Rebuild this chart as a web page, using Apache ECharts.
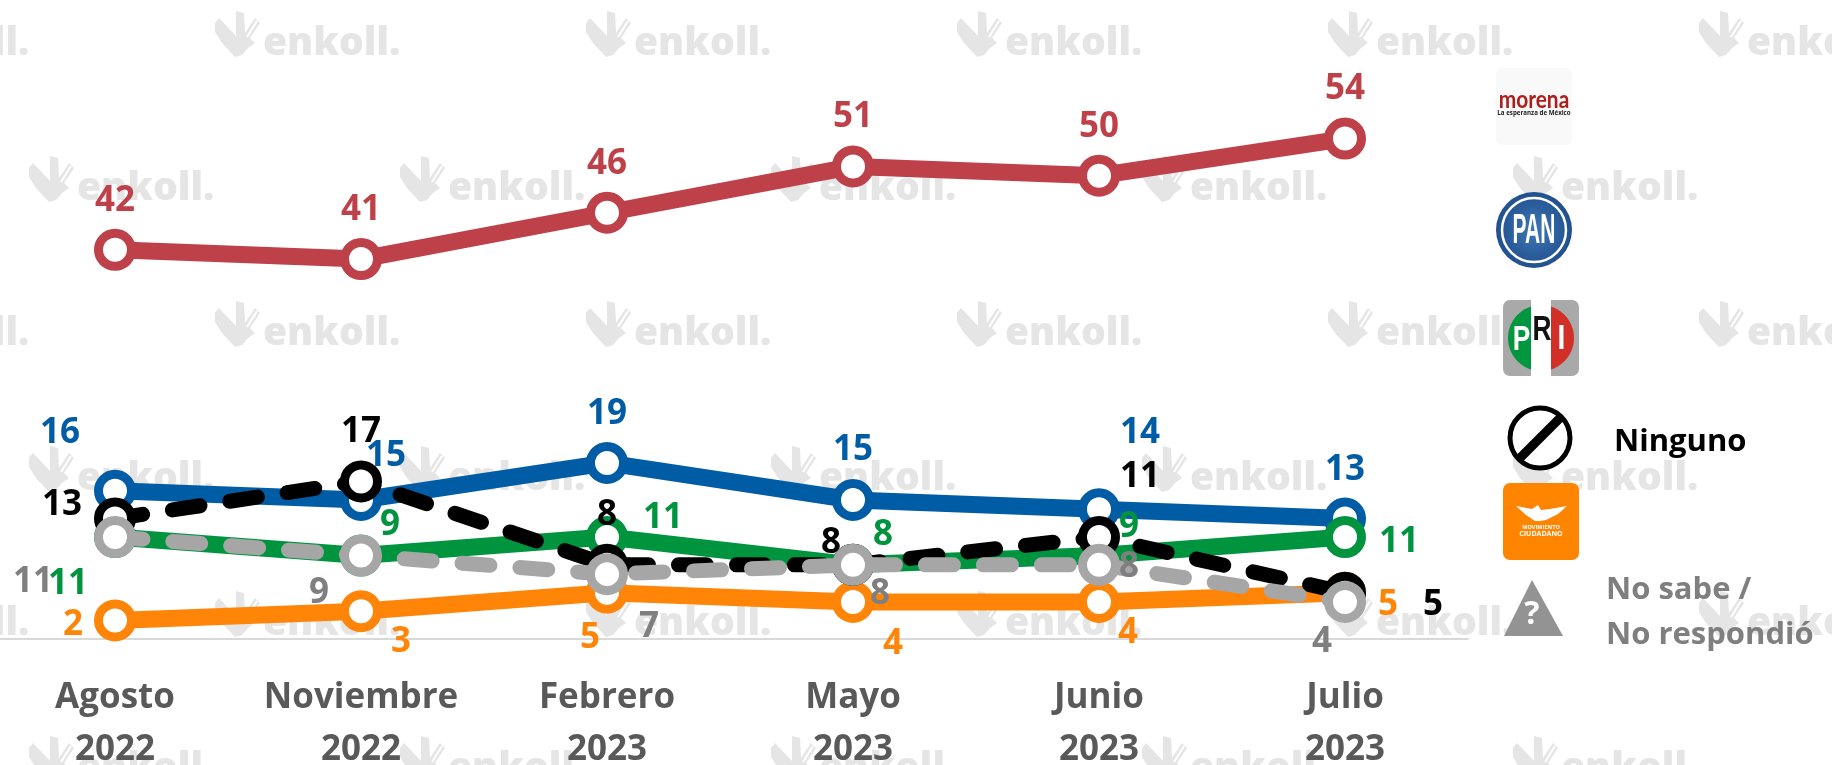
<!DOCTYPE html>
<html>
<head>
<meta charset="utf-8">
<style>html,body{margin:0;padding:0;background:#fff}#c{width:1832px;height:765px}</style>
<script src="https://cdn.jsdelivr.net/npm/echarts@6/dist/echarts.min.js"></script>
</head>
<body>
<div id="c"></div>
<script>
const categories = ['Agosto\n2022','Noviembre\n2022','Febrero\n2023','Mayo\n2023','Junio\n2023','Julio\n2023'];
const morena  = [42,41,46,51,50,54];
const pan     = [16,15,19,15,14,13];
const pri     = [11,9,11,8,9,11];
const mc      = [2,3,5,4,4,5];
const ninguno = [13,17,8,8,11,5];
const noSabe  = [11,9,7,8,8,4];

const offMorena  = [[0,-49],[0,-49],[0,-49],[0,-49],[0,-49],[0,-50]];
const offPan     = [[-55,-58],[25,-44],[0,-49],[0,-50],[41,-76],[0,-49]];
const offPri     = [[-47,47],[29,-31],[56,-19],[30,-30],[30,-29],[54,5]];
const offMc      = [[-42,5],[40,31],[-17,45],[40,42],[29,31],[43,12]];
const offNinguno = [[-53,-14],[0,-49],[0,-50],[-22,-22],[41,-60],[88,12]];
const offNoSabe  = [[-82,45],[-42,37],[42,53],[27,29],[30,2],[-23,40]];

const FONT = '"Open Sans"';
function mk(name, vals, offs, color, labelColor, dashed, width, i) {
  return {
    name, type:'line', z:3+i, data: vals.map((v,k)=>({
      value:v, label:{offset:offs[k]}
    })),
    symbol:'circle', symbolSize:33, showAllSymbol:true, clip:false,
    lineStyle:{color, width, type: dashed?[28,30]:'solid', cap: dashed?'round':'butt', join:'round'},
    itemStyle:{color:'#fff', borderColor:color, borderWidth:9, opacity:1},
    label:{show:true, position:'inside', color:labelColor, fontFamily:FONT, fontWeight:'bold', fontSize:35},
    emphasis:{disabled:true}
  };
}
const series = [
  mk('Morena',morena,offMorena,'#be4049','#be4049',false,17,0),
  mk('PAN',pan,offPan,'#005ca4','#005ca4',false,17,1),
  mk('PRI',pri,offPri,'#00943f','#00943f',false,17,2),
  mk('MC',mc,offMc,'#ff8508','#ff8508',false,17,3),
  mk('Ninguno',ninguno,offNinguno,'#000000','#000000',true,15,4),
  mk('No sabe / No respondió',noSabe,offNoSabe,'#a6a6a6','#7f7f7f',true,15,5)
];

/* watermark */
const g = [];
const wmColor = '#e5e5e5';
const LOGO = [[0,13],[4,8],[21,26],[21,1],[29,3],[30,23],[40,8],[45,13],[35,28],[40,33],[33,38],[27,45],[20,47],[7,33],[0,22]];
function wm(x,y){
  g.push({type:'polygon', z:0, silent:true, shape:{points:LOGO.map(p=>[p[0]+x,p[1]+y])}, style:{fill:wmColor}});
  g.push({type:'line', z:0, silent:true, shape:{x1:x+32,y1:y+27,x2:x+42,y2:y+11}, style:{stroke:'#fff',lineWidth:2}});
  g.push({type:'text', z:0, silent:true, x:x+48, y:y+53, style:{text:'enkoll.', fill:wmColor, font:'800 39px "Open Sans"', verticalAlign:'bottom'}});
}
for (let r=0;r<6;r++){
  const y0 = 10+145*r, start = r%2===0 ? -156 : 29;
  for (let c=0;c<6;c++) wm(start+371*c,y0);
}

/* legend icons */
const Z=60;
function rr(x,y,w,h,rad,fill,z){g.push({type:'rect',z:z||Z,silent:true,shape:{x,y,width:w,height:h,r:rad},style:{fill}});}
function txt(x,y,t,font,fill,align,sx){g.push({type:'text',z:Z+2,silent:true,x,y,scaleX:sx||1,style:{text:t,font,fill,align:align||'center',verticalAlign:'middle'}});}
function lune(cx,cy,r,dx,sign){const p=[];const t=Math.acos(dx/r);for(let i=0;i<=24;i++){const a=-t+2*t*i/24;p.push([cx+sign*r*Math.cos(a),cy+r*Math.sin(a)]);}return p;}

// morena
rr(1496,68,76,77,7,'#f9f9f9');
txt(1534,100,'morena','bold 24px Lato','#ad1d1c','center',.87);
txt(1534,113,'La esperanza de México','bold 6.2px "Open Sans"','#222');
// PAN
g.push({type:'circle',z:Z,silent:true,shape:{cx:1534,cy:230,r:38},style:{fill:{type:'radial',x:.5,y:.5,r:.5,colorStops:[{offset:0,color:'#3f77b5'},{offset:1,color:'#21508f'}]}}});
g.push({type:'circle',z:Z+1,silent:true,shape:{cx:1534,cy:230,r:32},style:{fill:'none',stroke:'#fff',lineWidth:2.5}});
txt(1534,231,'PAN','bold 42px "Liberation Sans"','#fff','center',.5);
// PRI
rr(1503,300,76,76,7,'#a9a9a9');
rr(1531,300,20,76,0,'#fff',Z+1);
g.push({type:'polygon',z:Z+1,silent:true,shape:{points:lune(1541,338,33,10,-1)},style:{fill:'#00973f'}});
g.push({type:'polygon',z:Z+1,silent:true,shape:{points:lune(1541,338,33,10,1)},style:{fill:'#d22f27'}});
txt(1521.5,340,'P','bold 35px "Liberation Sans"','#fff','center',.75);
txt(1542,330,'R','bold 35px "Liberation Sans"','#111','center',.75);
txt(1561.5,339,'I','bold 35px "Liberation Sans"','#fff','center',.8);
// Ninguno
g.push({type:'circle',z:Z,silent:true,shape:{cx:1540,cy:438,r:30},style:{fill:'#fff',stroke:'#000',lineWidth:5}});
g.push({type:'line',z:Z+1,silent:true,shape:{x1:1519,y1:459,x2:1561,y2:417},style:{stroke:'#000',lineWidth:9}});
txt(1614,442,'Ninguno','bold 31px "Open Sans"','#000','left');
// MC
rr(1503,483,76,77,7,'#ff8500');
g.push({type:'polygon',z:Z+1,silent:true,shape:{points:[[1516,506],[1532,509],[1538,505],[1541,510],[1550,509],[1567,506],[1558,514],[1546,520],[1540,521],[1535,521],[1526,515]]},style:{fill:'#fff'}});
txt(1541,527,'MOVIMIENTO','bold 5.6px "Open Sans"','#fff');
txt(1541,533.5,'CIUDADANO','bold 7px "Open Sans"','#fff');
// No sabe
g.push({type:'polygon',z:Z,silent:true,shape:{points:[[1532,580],[1563,636],[1504,636]]},style:{fill:'#939393'}});
txt(1532,615,'?','bold 32px "Open Sans"','#fff');
txt(1606,590,'No sabe /','bold 31px "Open Sans"','#7f7f7f','left');
txt(1606,635,'No respondió','bold 31px "Open Sans"','#7f7f7f','left');

const chart = echarts.init(document.getElementById('c'),null,{renderer:'canvas'});
chart.setOption({
  animation:false,
  backgroundColor:'#fff',
  grid:{left:-8,width:1476,top:83,height:556,containLabel:false,outerBoundsMode:'none'},
  xAxis:{type:'category',data:categories,boundaryGap:true,
    axisLine:{show:true,lineStyle:{color:'#d9d9d9',width:2}},axisTick:{show:false},
    axisLabel:{interval:0,margin:33,color:'#595959',fontFamily:FONT,fontWeight:'bold',fontSize:35,lineHeight:52}},
  yAxis:{type:'value',min:0,max:60,show:false,splitLine:{show:false}},
  legend:{show:false},
  tooltip:{show:false},
  series,
  graphic:{elements:g}
});
</script>
</body>
</html>
